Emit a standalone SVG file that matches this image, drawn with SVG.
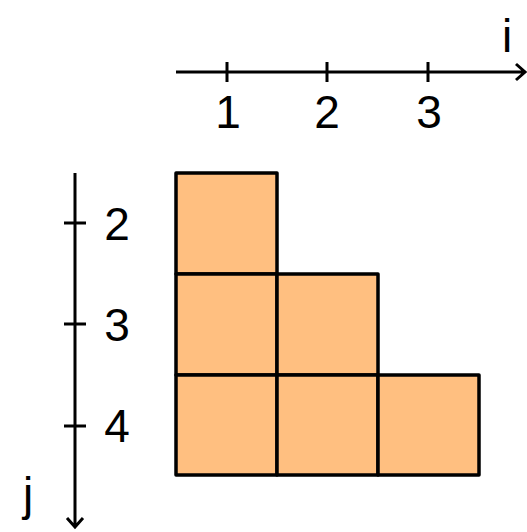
<svg xmlns="http://www.w3.org/2000/svg" width="527" height="532" viewBox="0 0 527 532">
<style>
.ax{stroke:#000;stroke-width:3;fill:none;stroke-linecap:butt}
.cell{fill:#FFBF80;stroke:#000;stroke-width:3.5;stroke-linejoin:round}
.t{font-family:"Liberation Sans",Arial,sans-serif;font-size:46px;fill:#000}
</style>
<rect width="527" height="532" fill="#fff"/>
<g id="connectors">
<path class="ax" d="M176 72H524M516 64L525 72L516 80"/>
<path class="ax" d="M227 62V82M327 62V82M428 62V82"/>
<path class="ax" d="M75 173V527M67 518L75 527L83 518"/>
<path class="ax" d="M64 223H86M64 324H86M64 426H86"/>
</g>
<g id="labels">
<text class="t" x="228" y="128" text-anchor="middle">1</text>
<text class="t" x="327" y="128" text-anchor="middle">2</text>
<text class="t" x="429" y="128" text-anchor="middle">3</text>
<text class="t" x="507" y="52" text-anchor="middle">i</text>
<text class="t" x="117" y="240" text-anchor="middle">2</text>
<text class="t" x="117" y="341" text-anchor="middle">3</text>
<text class="t" x="117" y="442" text-anchor="middle">4</text>
<text class="t" x="28" y="510" text-anchor="middle">j</text>
</g>
<g id="cell-1-2"><rect class="cell" x="176" y="173" width="101" height="101"/></g>
<g id="cell-1-3"><rect class="cell" x="176" y="274" width="101" height="101"/></g>
<g id="cell-2-3"><rect class="cell" x="277" y="274" width="101" height="101"/></g>
<g id="cell-1-4"><rect class="cell" x="176" y="375" width="101" height="100"/></g>
<g id="cell-2-4"><rect class="cell" x="277" y="375" width="101" height="100"/></g>
<g id="cell-3-4"><rect class="cell" x="378" y="375" width="101" height="100"/></g>
</svg>
